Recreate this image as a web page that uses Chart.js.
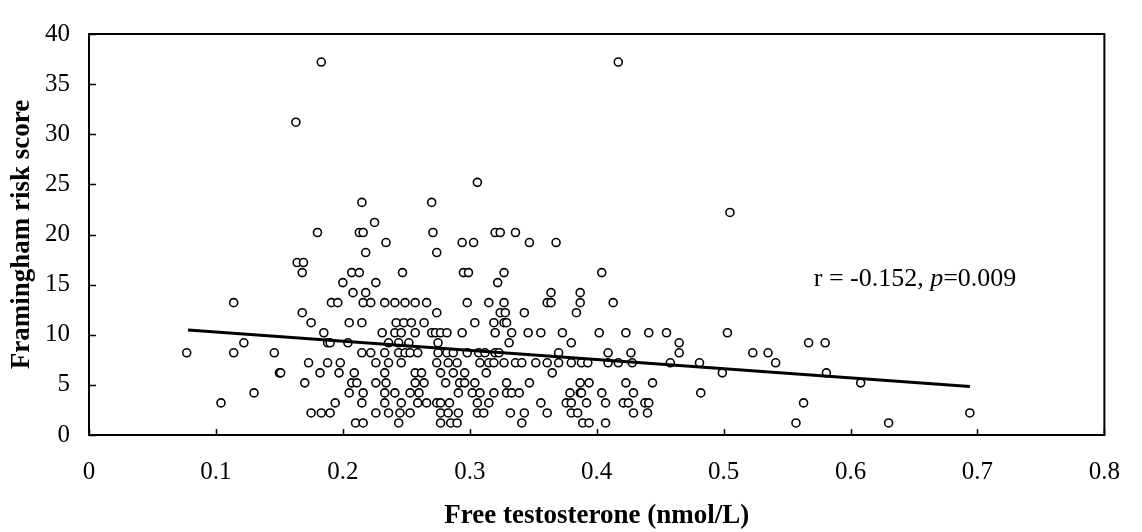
<!DOCTYPE html>
<html>
<head>
<meta charset="utf-8">
<script src="https://cdn.jsdelivr.net/npm/chart.js@4.4.0/dist/chart.umd.min.js"></script>
<style>
  body { margin: 0; background: #fff; }
  #wrap { width: 1142px; height: 532px; }
</style>
</head>
<body>
<div id="wrap"><canvas id="chart" width="1142" height="532"></canvas></div>
<script>
// Framingham risk score levels (the score is stepped, so points sit in rows)
const scoreRows = [37.2, 31.2, 25.2, 23.2, 22.2, 21.2, 20.2, 19.2, 18.2, 17.2, 16.2, 15.2, 14.2,
                   13.2, 12.2, 11.2, 10.2, 9.2, 8.2, 7.2, 6.2, 5.2, 4.2, 3.2, 2.2, 1.2];

// free testosterone (nmol/L) of every subject in each score row, same order as scoreRows
const freeTRows = [
    [0.183, 0.417],
    [0.163],
    [0.306],
    [0.215, 0.270],
    [0.505],
    [0.225],
    [0.180, 0.213, 0.216, 0.271, 0.320, 0.324, 0.336],
    [0.234, 0.294, 0.303, 0.347, 0.368],
    [0.218, 0.274],
    [0.164, 0.169],
    [0.168, 0.207, 0.213, 0.247, 0.295, 0.299, 0.327, 0.404],
    [0.200, 0.226, 0.322],
    [0.208, 0.218, 0.364, 0.387],
    [0.114, 0.191, 0.196, 0.216, 0.222, 0.233, 0.241, 0.249, 0.257, 0.266, 0.298, 0.315, 0.327,
     0.361, 0.364, 0.387, 0.413],
    [0.168, 0.274, 0.324, 0.328, 0.343, 0.384],
    [0.175, 0.205, 0.215, 0.242, 0.248, 0.254, 0.264, 0.304, 0.319, 0.327, 0.329],
    [0.185, 0.231, 0.241, 0.246, 0.257, 0.270, 0.273, 0.277, 0.282, 0.294, 0.320, 0.333, 0.346,
     0.356, 0.373, 0.402, 0.423, 0.441, 0.455, 0.503],
    [0.122, 0.188, 0.190, 0.204, 0.236, 0.244, 0.252, 0.275, 0.331, 0.380, 0.465, 0.567, 0.580],
    [0.077, 0.114, 0.146, 0.215, 0.222, 0.233, 0.244, 0.249, 0.253, 0.259, 0.275, 0.282, 0.287,
     0.298, 0.307, 0.312, 0.320, 0.323, 0.370, 0.409, 0.427, 0.465, 0.523, 0.535],
    [0.173, 0.188, 0.198, 0.226, 0.236, 0.246, 0.274, 0.283, 0.290, 0.308, 0.315, 0.319, 0.327,
     0.336, 0.341, 0.352, 0.361, 0.370, 0.380, 0.388, 0.393, 0.409, 0.417, 0.428, 0.458, 0.481, 0.541],
    [0.150, 0.151, 0.182, 0.197, 0.209, 0.233, 0.257, 0.262, 0.277, 0.287, 0.296, 0.313, 0.365,
     0.499, 0.581],
    [0.170, 0.207, 0.211, 0.226, 0.234, 0.257, 0.264, 0.281, 0.292, 0.296, 0.304, 0.329, 0.347,
     0.387, 0.394, 0.423, 0.444, 0.608],
    [0.130, 0.205, 0.216, 0.233, 0.241, 0.253, 0.260, 0.291, 0.302, 0.308, 0.319, 0.329, 0.333,
     0.339, 0.379, 0.387, 0.388, 0.404, 0.429, 0.482],
    [0.104, 0.194, 0.215, 0.233, 0.246, 0.259, 0.266, 0.274, 0.277, 0.284, 0.306, 0.315, 0.356,
     0.376, 0.380, 0.392, 0.407, 0.421, 0.425, 0.438, 0.441, 0.563],
    [0.175, 0.183, 0.190, 0.226, 0.236, 0.245, 0.253, 0.277, 0.283, 0.291, 0.306, 0.311, 0.332,
     0.343, 0.361, 0.380, 0.385, 0.429, 0.440, 0.694],
    [0.210, 0.216, 0.244, 0.277, 0.285, 0.290, 0.341, 0.389, 0.394, 0.407, 0.557, 0.630]
];

// regression line end points
const trendX = [0.078, 0.694];
const trendY = [10.48, 4.84];

const xTicks = [0, 0.1, 0.2, 0.3, 0.4, 0.5, 0.6, 0.7, 0.8];
const yTicks = [0, 5, 10, 15, 20, 25, 30, 35, 40];

const xTitle = 'Free testosterone (nmol/L)';
const yTitle = 'Framingham risk score';
const statParts = ['r = -0.152, ', 'p', '=0.009'];

const serif = "'Liberation Serif', 'Times New Roman', serif";

const points = [];
scoreRows.forEach(function(score, i) {
    freeTRows[i].forEach(function(ft) {
        points.push({ x: ft, y: score });
    });
});
const trendPoints = trendX.map(function(x, i) { return { x: x, y: trendY[i] }; });

// box round the plot, inward tick marks and the r / p note
const framePlugin = {
    id: 'framePlugin',
    afterDraw(chart) {
        const { ctx, chartArea: a, scales } = chart;
        ctx.save();
        ctx.strokeStyle = '#000';
        ctx.lineWidth = 2;
        ctx.strokeRect(a.left, a.top, a.right - a.left, a.bottom - a.top);

        ctx.lineWidth = 1.5;
        ctx.beginPath();
        xTicks.forEach(function(v) {
            const px = Math.round(scales.x.getPixelForValue(v)) + 0.5;
            ctx.moveTo(px, a.bottom);
            ctx.lineTo(px, a.bottom - 6);
        });
        yTicks.forEach(function(v) {
            const py = Math.round(scales.y.getPixelForValue(v)) + 0.5;
            ctx.moveTo(a.left, py);
            ctx.lineTo(a.left + 7, py);
        });
        ctx.stroke();

        // statistics text
        let tx = scales.x.getPixelForValue(0.571);
        const ty = scales.y.getPixelForValue(15.5);
        ctx.fillStyle = '#000';
        ctx.textBaseline = 'middle';
        ctx.textAlign = 'left';
        statParts.forEach(function(part, i) {
            ctx.font = (i === 1 ? 'italic ' : '') + '26px ' + serif;
            ctx.fillText(part, tx, ty);
            tx += ctx.measureText(part).width;
        });
        ctx.restore();
    }
};

new Chart(document.getElementById('chart'), {
    type: 'scatter',
    data: {
        datasets: [
            {
                label: 'Regression',
                type: 'line',
                data: trendPoints,
                borderColor: '#000',
                borderWidth: 3,
                pointRadius: 0,
                fill: false,
                order: 0
            },
            {
                label: 'Subjects',
                data: points,
                pointStyle: 'circle',
                pointRadius: 4,
                pointBorderWidth: 1.6,
                pointBorderColor: '#000',
                pointBackgroundColor: '#fff',
                order: 1
            }
        ]
    },
    options: {
        responsive: false,
        animation: false,
        layout: {
            padding: { top: 20, right: 26, left: 0, bottom: 0 }
        },
        plugins: {
            legend: { display: false },
            tooltip: { enabled: false }
        },
        scales: {
            x: {
                type: 'linear',
                min: 0,
                max: 0.8,
                afterFit: function(s) { s.height = 97; },
                afterBuildTicks: function(s) { s.ticks = xTicks.map(function(v) { return { value: v }; }); },
                grid: { display: false, drawTicks: false },
                border: { display: false },
                ticks: {
                    padding: 22,
                    color: '#000',
                    font: { family: serif, size: 25 },
                    callback: function(v) { return String(v); }
                },
                title: {
                    display: true,
                    text: xTitle,
                    color: '#000',
                    padding: { top: 0, bottom: 0 },
                    font: { family: serif, size: 27, weight: 'bold' }
                }
            },
            y: {
                type: 'linear',
                min: 0,
                max: 40,
                afterFit: function(s) { s.width = 89; },
                afterBuildTicks: function(s) { s.ticks = yTicks.map(function(v) { return { value: v }; }); },
                grid: { display: false, drawTicks: false },
                border: { display: false },
                ticks: {
                    padding: 19,
                    color: '#000',
                    font: { family: serif, size: 25 },
                    callback: function(v) { return String(v); }
                },
                title: {
                    display: true,
                    text: yTitle,
                    color: '#000',
                    padding: { top: 6, bottom: 0 },
                    font: { family: serif, size: 27, weight: 'bold' }
                }
            }
        }
    },
    plugins: [framePlugin]
});
</script>
</body>
</html>
